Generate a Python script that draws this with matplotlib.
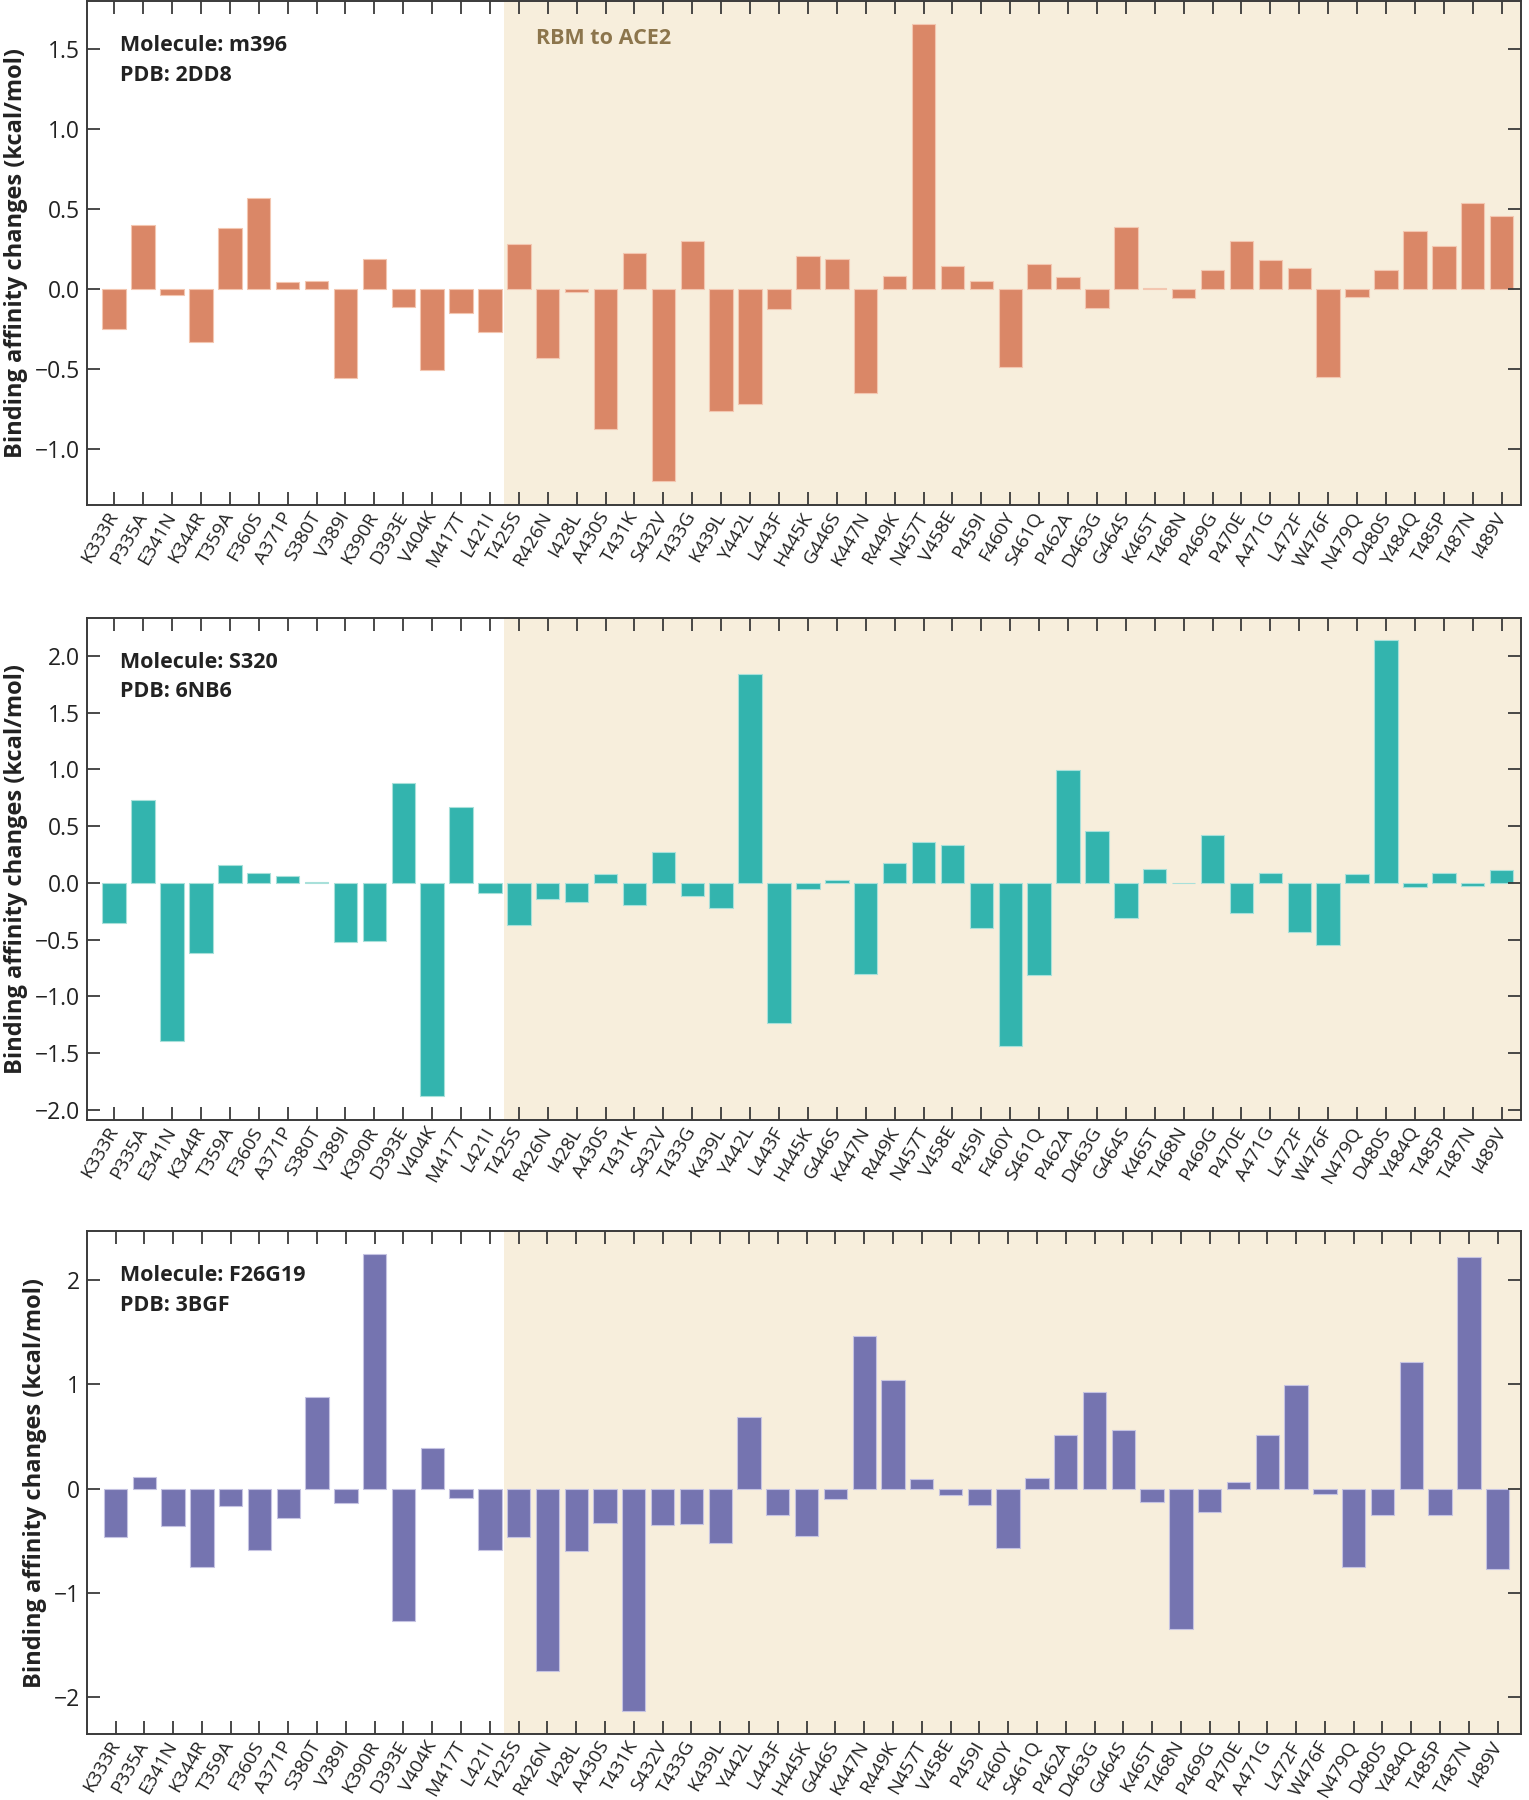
import matplotlib
matplotlib.use("Agg")
import matplotlib.pyplot as plt
import numpy as np

plt.rcParams['font.family'] = ['Open Sans', 'DejaVu Sans']

mutations = ["K333R", "P335A", "E341N", "K344R", "T359A", "F360S", "A371P", "S380T",
             "V389I", "K390R", "D393E", "V404K", "M417T", "L421I", "T425S", "R426N",
             "I428L", "A430S", "T431K", "S432V", "T433G", "K439L", "Y442L", "L443F",
             "H445K", "G446S", "K447N", "R449K", "N457T", "V458E", "P459I", "F460Y",
             "S461Q", "P462A", "D463G", "G464S", "K465T", "T468N", "P469G", "P470E",
             "A471G", "L472F", "W476F", "N479Q", "D480S", "Y484Q", "T485P", "T487N",
             "I489V"]

m396 = [-0.25, 0.40, -0.04, -0.33, 0.38, 0.57, 0.045, 0.053, -0.555, 0.19,
        -0.115, -0.507, -0.148, -0.27, 0.28, -0.433, -0.02, -0.878, 0.225, -1.203,
        0.30, -0.76, -0.72, -0.122, 0.208, 0.19, -0.648, 0.084, 1.658, 0.146,
        0.05, -0.486, 0.155, 0.074, -0.12, 0.39, 0.007, -0.057, 0.117, 0.297,
        0.184, 0.129, -0.548, -0.048, 0.117, 0.364, 0.266, 0.536, 0.457]

s320 = [-0.351, 0.733, -1.392, -0.622, 0.159, 0.088, 0.064, 0.008, -0.52, -0.514,
        0.885, -1.878, 0.672, -0.088, -0.375, -0.142, -0.166, 0.081, -0.196, 0.274,
        -0.118, -0.223, 1.841, -1.236, -0.051, 0.027, -0.80, 0.176, 0.361, 0.331,
        -0.399, -1.439, -0.814, 0.993, 0.459, -0.307, 0.125, -0.005, 0.426, -0.264,
        0.088, -0.432, -0.551, 0.081, 2.139, -0.037, 0.088, -0.024, 0.118]

f26g19 = [-0.462, 0.114, -0.355, -0.747, -0.167, -0.587, -0.281, 0.878, -0.132, 2.247,
          -1.266, 0.391, -0.092, -0.587, -0.466, -1.742, -0.601, -0.327, -2.133, -0.348,
          -0.334, -0.515, 0.69, -0.252, -0.448, -0.096, 1.465, 1.042, 0.096, -0.057,
          -0.156, -0.572, 0.103, 0.512, 0.928, 0.565, -0.128, -1.344, -0.224, 0.068,
          0.512, 0.999, -0.046, -0.754, -0.249, 1.212, -0.252, 2.222, -0.771]

molecules = ["m396", "S320", "F26G19"]
pdbs = ["2DD8", "6NB6", "3BGF"]
rbm_start = "T425S"

panels = [
    dict(vals=m396, color="#DA8767", edge="#F3C6B0", ylim=(-1.35, 1.80),
         yticks=[-1.0, -0.5, 0.0, 0.5, 1.0, 1.5], fmt="{:.1f}",
         rect=[87.3, 1.0, 1520.7, 505.0], xlim=(-0.93, 48.66)),
    dict(vals=s320, color="#33B4AE", edge="#A8E0DA", ylim=(-2.09, 2.34),
         yticks=[-2.0, -1.5, -1.0, -0.5, 0.0, 0.5, 1.0, 1.5, 2.0], fmt="{:.1f}",
         rect=[87.3, 617.5, 1520.7, 1120.0], xlim=(-0.93, 48.66)),
    dict(vals=f26g19, color="#7574B0", edge="#C5C3E2", ylim=(-2.35, 2.47),
         yticks=[-2, -1, 0, 1, 2], fmt="{:d}",
         rect=[87.3, 1231.0, 1520.7, 1734.0], xlim=(-0.98, 48.8)),
]

W, H = 1529, 1800
fig = plt.figure(figsize=(W / 100, H / 100), dpi=100)

x = np.arange(len(mutations))
rbm_idx = mutations.index(rbm_start)
shade = "#F7EEDC"
spine_c = "#3a3a3a"

for i, p in enumerate(panels):
    l, t, r, b = p["rect"]
    ax = fig.add_axes([l / W, 1 - b / H, (r - l) / W, (b - t) / H])
    ax.axvspan(rbm_idx - 0.5, p["xlim"][1], color=shade, zorder=0, lw=0)
    ax.bar(x, p["vals"], width=0.81, color=p["color"], edgecolor=p["edge"],
           linewidth=0.8, zorder=2)
    ax.set_xlim(*p["xlim"])
    ax.set_ylim(*p["ylim"])
    ax.set_xticks(x)
    ax.set_xticklabels(mutations, rotation=60, ha="right", va="center",
                       rotation_mode="anchor", fontsize=13.8, color="#222222")
    ax.set_yticks(p["yticks"])
    ax.set_yticklabels([p["fmt"].format(v).replace("-", "\u2212") for v in p["yticks"]],
                       fontsize=16.5, color="#222222")
    ax.tick_params(axis="both", direction="in", length=9.5, width=1.3, color=spine_c,
                   top=True, right=True)
    ax.tick_params(axis="x", pad=6)
    ax.tick_params(axis="y", pad=5)
    for s in ax.spines.values():
        s.set_color(spine_c)
        s.set_linewidth(1.4)
    ax.set_ylabel("Binding affinity changes (kcal/mol)", fontsize=17, fontweight="bold",
                  color="#222222", labelpad=5)
    ax.text(0.0228, 0.911, f"Molecule: {molecules[i]}", transform=ax.transAxes,
            fontsize=15.5, fontweight="bold", color="#222222", va="center", ha="left")
    ax.text(0.0228, 0.852, f"PDB: {pdbs[i]}", transform=ax.transAxes,
            fontsize=15.5, fontweight="bold", color="#222222", va="center", ha="left")
    if i == 0:
        ax.text(rbm_idx - 0.5 + 1.1, 0.925, "RBM to ACE2",
                transform=ax.get_xaxis_transform(), fontsize=15.5, fontweight="bold",
                color="#8C754C", va="center", ha="left")
    ax.set_axisbelow(False)

fig.savefig("out.png", dpi=100, facecolor="white")
